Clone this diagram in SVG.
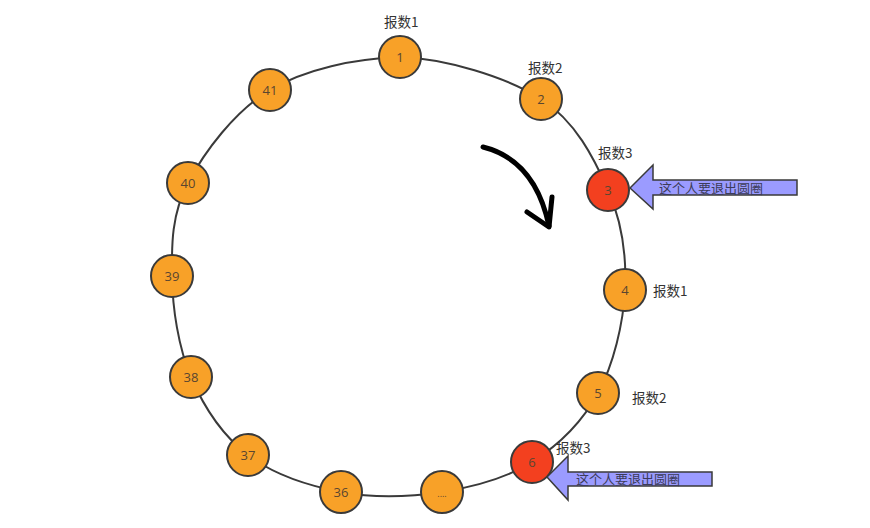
<svg xmlns="http://www.w3.org/2000/svg" width="870" height="528" viewBox="0 0 870 528">
<style>
.ring{fill:none;stroke:#3a3a3a;stroke-width:2}
.n circle{stroke:#3a3a3a;stroke-width:2}
.o{fill:#f8a128}
.r{fill:#f3401f}
.n text{font-family:"Open Sans","DejaVu Sans",sans-serif;font-size:13px;fill:#5a4630;text-anchor:middle}
.lbl{font-family:"Noto Sans CJK SC","Noto Sans",sans-serif;font-size:13.5px;fill:#333}
.big{fill:#9b9bff;stroke:#3a3a3a;stroke-width:1.5;stroke-linejoin:miter}
.at{font-family:"Noto Sans CJK SC",sans-serif;font-size:13px;fill:#3c3c5a}
.curve{fill:none;stroke:#000;stroke-width:5;stroke-linecap:round;stroke-linejoin:round}
</style>
<rect width="870" height="528" fill="#fff"/>
<g id="connectors">
<path class="ring" d="M400,57 C445.2,58.5 506.3,76.8 541,99 C575.7,121.2 594,158.2 608,190 C622,221.8 626.7,256.2 625,290 C623.3,323.8 613.5,364.3 598,393 C582.5,421.7 558,445.5 532,462 C506,478.5 473.8,487 442,492 C410.2,497 373.3,498.2 341,492 C308.7,485.8 273,474.2 248,455 C223,435.8 203.7,406.8 191,377 C178.3,347.2 172.5,308.3 172,276 C171.5,243.7 171.7,214 188,183 C204.3,152 234.7,111 270,90 C305.3,69 354.8,58.5 400,57 Z"/>
<path class="curve" d="M483,147 Q535,160 549,226"/>
<path class="curve" d="M552,197 L549,227 L527,212"/>
</g>
<g id="n1" class="n"><circle class="o" cx="400" cy="57" r="21"/><text x="400" y="62">1</text></g>
<g id="n2" class="n"><circle class="o" cx="541" cy="99" r="21"/><text x="541" y="104">2</text></g>
<g id="n3" class="n"><circle class="r" cx="608" cy="190" r="21"/><text x="608" y="195">3</text></g>
<g id="n4" class="n"><circle class="o" cx="625" cy="290" r="21"/><text x="625" y="295">4</text></g>
<g id="n5" class="n"><circle class="o" cx="598" cy="393" r="21"/><text x="598" y="398">5</text></g>
<g id="n6" class="n"><circle class="r" cx="532" cy="462" r="21"/><text x="532" y="467">6</text></g>
<g id="ndots" class="n"><circle class="o" cx="442" cy="492" r="21"/><text x="442" y="497" style="font-size:9px">....</text></g>
<g id="n36" class="n"><circle class="o" cx="341" cy="492" r="21"/><text x="341" y="497">36</text></g>
<g id="n37" class="n"><circle class="o" cx="248" cy="455" r="21"/><text x="248" y="460">37</text></g>
<g id="n38" class="n"><circle class="o" cx="191" cy="377" r="21"/><text x="191" y="382">38</text></g>
<g id="n39" class="n"><circle class="o" cx="172" cy="276" r="21"/><text x="172" y="281">39</text></g>
<g id="n40" class="n"><circle class="o" cx="188" cy="183" r="21"/><text x="188" y="188">40</text></g>
<g id="n41" class="n"><circle class="o" cx="270" cy="90" r="21"/><text x="270" y="95">41</text></g>
<g id="labels">
<text class="lbl" x="384" y="27">报数1</text>
<text class="lbl" x="528" y="73">报数2</text>
<text class="lbl" x="598" y="158">报数3</text>
<text class="lbl" x="653" y="296">报数1</text>
<text class="lbl" x="632" y="403">报数2</text>
<text class="lbl" x="556" y="453">报数3</text>
</g>
<g id="arrow1">
<polygon class="big" points="630,188 653,165 653,180 797,180 797,195 653,195 653,209"/>
<text class="at" x="659" y="193">这个人要退出圆圈</text>
</g>
<g id="arrow2">
<polygon class="big" points="547,477 568,456 568,472 712,472 712,486 568,486 568,500"/>
<text class="at" x="576" y="484">这个人要退出圆圈</text>
</g>
</svg>
